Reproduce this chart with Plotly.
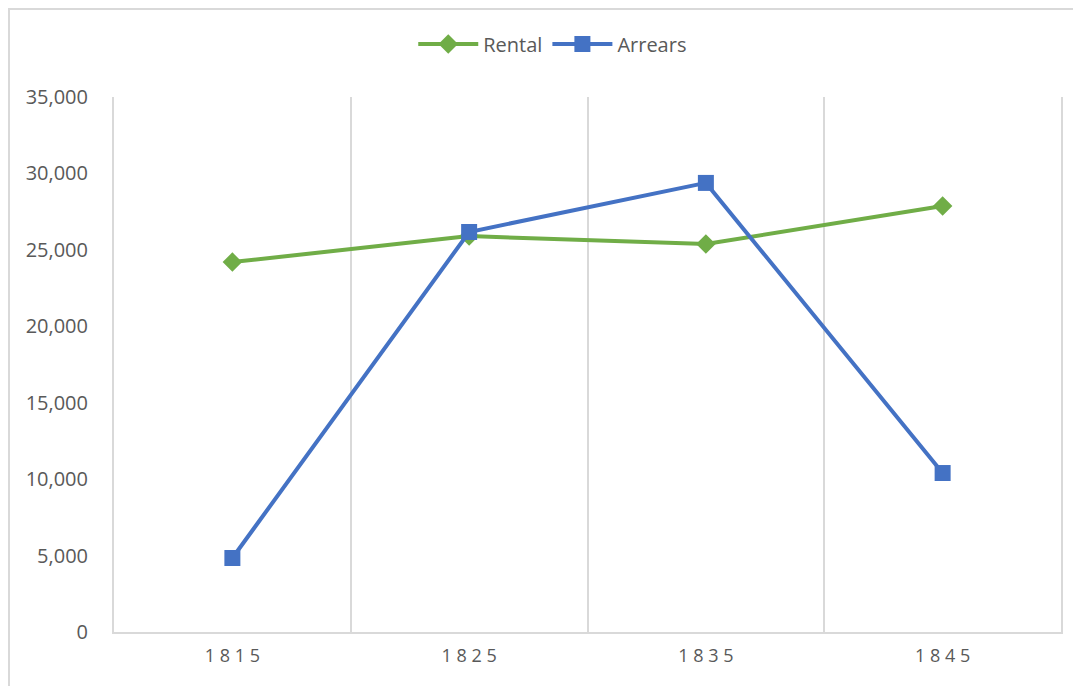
import plotly.graph_objects as go

years = ["1815", "1825", "1835", "1845"]
year_labels = ["1 8 1 5", "1 8 2 5", "1 8 3 5", "1 8 4 5"]
rental = [24200, 25900, 25380, 27870]
arrears = [4840, 26170, 29380, 10400]

GREEN = "#70AD47"
BLUE = "#4472C4"
TXT = "#595959"
GRID = "#D9D9D9"

fig = go.Figure()
fig.add_trace(go.Scatter(
    x=years, y=rental, name="Rental", mode="lines+markers",
    line=dict(color=GREEN, width=4),
    marker=dict(symbol="diamond", size=15, color=GREEN),
))
fig.add_trace(go.Scatter(
    x=years, y=arrears, name="Arrears", mode="lines+markers",
    line=dict(color=BLUE, width=4),
    marker=dict(symbol="square", size=16, color=BLUE),
))

fig.update_layout(
    width=1081, height=686,
    margin=dict(l=106, r=28, t=89, b=62),
    paper_bgcolor="white", plot_bgcolor="white",
    font=dict(family="Open Sans", color=TXT),
    showlegend=True,
    legend=dict(orientation="h", x=0.316, y=1.099, xanchor="left", yanchor="middle",
                font=dict(size=20, color=TXT), itemwidth=60, traceorder="normal"),
    xaxis=dict(
        type="category", range=[-0.5, 3.5], tickson="boundaries",
        tickvals=years, ticktext=year_labels,
        showgrid=True, gridcolor=GRID, gridwidth=2,
        showline=True, linecolor=GRID, linewidth=2,
        ticks="", tickfont=dict(size=18, color=TXT), ticklabelstandoff=6,
        fixedrange=True,
    ),
    yaxis=dict(
        range=[0, 35000], dtick=5000, tickformat=",",
        showgrid=False, zeroline=False,
        showline=True, mirror=True, linecolor=GRID, linewidth=2,
        ticks="", tickfont=dict(size=20, color=TXT), ticklabelstandoff=20,
        fixedrange=True,
    ),
    shapes=[dict(type="rect", xref="paper", yref="paper",
                 x0=-0.1109, x1=1.2, y0=-0.3, y1=1.1645,
                 line=dict(color=GRID, width=2), fillcolor="rgba(0,0,0,0)", layer="below")],
)

fig.write_html("out.html")
